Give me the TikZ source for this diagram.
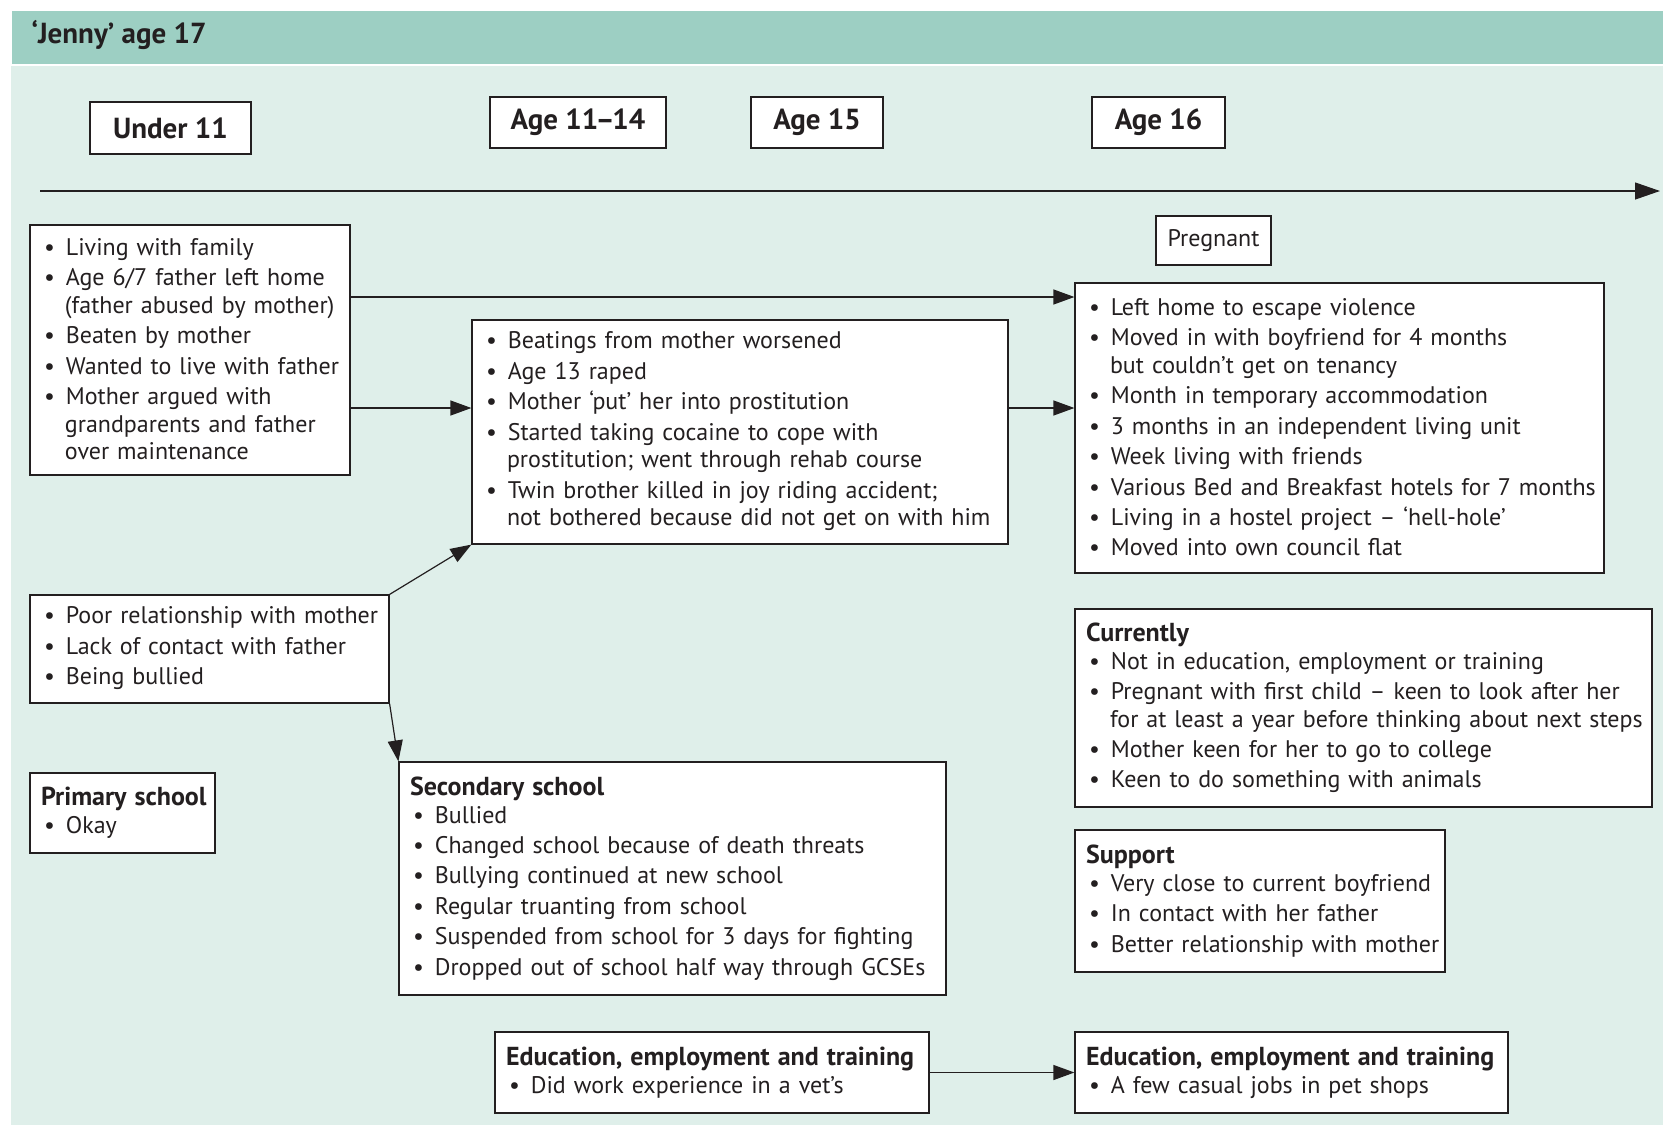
\documentclass[tikz,border=0pt]{standalone}
\usepackage{fontspec}
\setmainfont{PT Sans}
\usetikzlibrary{arrows.meta}
\definecolor{headteal}{HTML}{9DCFC3}
\definecolor{panel}{HTML}{DFEFEA}
\definecolor{ink}{HTML}{231F20}

% compact bullet list used inside the boxes
\newenvironment{blist}{%
  \begin{list}{\textbullet}{%
    \setlength{\leftmargin}{24pt}\setlength{\labelwidth}{10pt}%
    \setlength{\labelsep}{11pt}\setlength{\itemsep}{2.8pt}%
    \setlength{\parsep}{0pt}\setlength{\topsep}{0pt}%
    \setlength{\partopsep}{0pt}\setlength{\itemindent}{0pt}}}%
  {\end{list}}
% box heading, set a little larger than the body text
\newcommand{\boxhead}[1]{{\fontsize{26}{27.6}\selectfont\bfseries\makebox[0pt][l]{#1}}\par}
% a line that is never broken, even when it runs into the padding
\newcommand{\nb}[1]{\makebox[0pt][l]{#1}}
% lift a list that opens a box without a heading
\newcommand{\listlift}{\vspace*{-12pt}}

\tikzset{
  body/.style={font=\fontsize{24}{27.6}\selectfont, text=ink},
  infobox/.style={body, draw=ink, line width=1.2pt, fill=white,
    inner xsep=11pt, inner ysep=0pt, align=left},
  agebox/.style={draw=ink, line width=1.2pt, fill=white, text=ink,
    font=\fontsize{29}{32}\selectfont\bfseries, inner sep=0pt},
  arr/.style={draw=ink, line width=1.2pt, -{Triangle[length=21pt,width=15pt]}},
}

\begin{document}
\begin{tikzpicture}[x=1pt,y=-1pt]
\useasboundingbox (0,0) rectangle (1663,1125);
\fill[white] (0,0) rectangle (1663,1125);
% title band and panel
\fill[headteal] (12,11) rectangle (1663,64);
\fill[panel] (11,66) rectangle (1663,1125);
\node[anchor=west, text=ink, font=\fontsize{29}{32}\selectfont\bfseries] (title) at (28,35) {‘Jenny’ age 17};

% age markers
\node[agebox, minimum width=161pt, minimum height=52pt] (u11) at (170.5,128) {Under 11};
\node[agebox, minimum width=176pt, minimum height=51pt] (a1114) at (578,122.5) {Age 11\kern-2.5pt–\kern-2.5pt14};
\node[agebox, minimum width=132pt, minimum height=51pt] (a15) at (817,122.5) {Age 15};
\node[agebox, minimum width=133pt, minimum height=51pt] (a16) at (1158.5,122.5) {Age 16};

% timeline
\coordinate (tl0) at (40,191);
\coordinate (tl1) at (1660,191);
\draw[draw=ink, line width=1.2pt, -{Triangle[length=25pt,width=17pt]}] (tl0) -- (tl1);

% boxes
\node[infobox, text width=298pt, minimum height=250pt] (fam) at (190,350) {%
\listlift
\begin{blist}
\item Living with family
\item Age 6/7 father left home\newline \nb{(father abused by mother)}
\item Beaten by mother
\item \nb{Wanted to live with father}
\item Mother argued with\newline grandparents and father\newline over maintenance
\end{blist}};

\node[infobox, text width=514pt, minimum height=224pt] (teen) at (740,432) {%
\listlift
\begin{blist}
\item Beatings from mother worsened
\item Age 13 raped
\item Mother ‘put’ her into prostitution
\item Started taking cocaine to cope with\newline \nb{prostitution; went through rehab course}
\item \nb{Twin brother killed in joy riding accident;}\newline \nb{not bothered because did not get on with him}
\end{blist}};

\node[body, draw=ink, line width=1.2pt, fill=white, inner sep=0pt,
  minimum width=115pt, minimum height=49pt] (preg) at (1213.5,240.5) {Pregnant};

\node[infobox, text width=507pt, minimum height=290pt] (home) at (1339.5,428) {%
\listlift
\begin{blist}
\item Left home to escape violence
\item Moved in with boyfriend for 4 months\newline but couldn’t get on tenancy
\item Month in temporary accommodation
\item \nb{3 months in an independent living unit}
\item Week living with friends
\item \nb{Various Bed and Breakfast hotels for 7 months}
\item \nb{Living in a hostel project -- ‘hell-hole’}
\item Moved into own council flat
\end{blist}};

\node[infobox, text width=337pt, minimum height=108pt] (rel) at (209.5,649) {%
\listlift
\begin{blist}
\item \nb{Poor relationship with mother}
\item \nb{Lack of contact with father}
\item Being bullied
\end{blist}};

\node[infobox, text width=163pt, minimum height=80pt] (prim) at (122.5,813) {%
\boxhead{Primary school}
\begin{blist}
\item Okay
\end{blist}};

\node[infobox, text width=525pt, minimum height=233pt] (sec) at (672.5,878.5) {%
\boxhead{Secondary school}
\begin{blist}
\item Bullied
\item \nb{Changed school because of death threats}
\item Bullying continued at new school
\item Regular truanting from school
\item \nb{Suspended from school for 3 days for fighting}
\item \nb{Dropped out of school half way through GCSEs}
\end{blist}};

\node[infobox, text width=555pt, minimum height=198pt] (now) at (1363.5,708) {%
\boxhead{Currently}
\begin{blist}
\item \nb{Not in education, employment or training}
\item \nb{Pregnant with first child -- keen to look after her}\newline \nb{for at least a year before thinking about next steps}
\item Mother keen for her to go to college
\item Keen to do something with animals
\end{blist}};

\node[infobox, text width=348pt, minimum height=142pt] (supp) at (1260,901) {%
\boxhead{Support}
\begin{blist}
\item \nb{Very close to current boyfriend}
\item \nb{In contact with her father}
\item \nb{Better relationship with mother}
\end{blist}};

\node[infobox, text width=412pt, minimum height=81pt] (eet1) at (712,1072.5) {%
\boxhead{Education, employment and training}
\begin{blist}
\item \nb{Did work experience in a vet’s}
\end{blist}};

\node[infobox, text width=411pt, minimum height=81pt] (eet2) at (1291.5,1072.5) {%
\boxhead{Education, employment and training}
\begin{blist}
\item \nb{A few casual jobs in pet shops}
\end{blist}};

% connectors
\coordinate (rowa) at (0,297);
\coordinate (rowb) at (0,408);
\draw[arr] (fam.east |- rowa) -- (home.west |- rowa);
\draw[arr] (fam.east |- rowb) -- (teen.west |- rowb);
\draw[arr] (teen.east |- rowb) -- (home.west |- rowb);
\draw[arr] (rel.north east) -- (teen.south west);
\draw[arr] (rel.south east) -- (sec.north west);
\draw[arr] (eet1.east) -- (eet2.west);
\end{tikzpicture}
\end{document}
